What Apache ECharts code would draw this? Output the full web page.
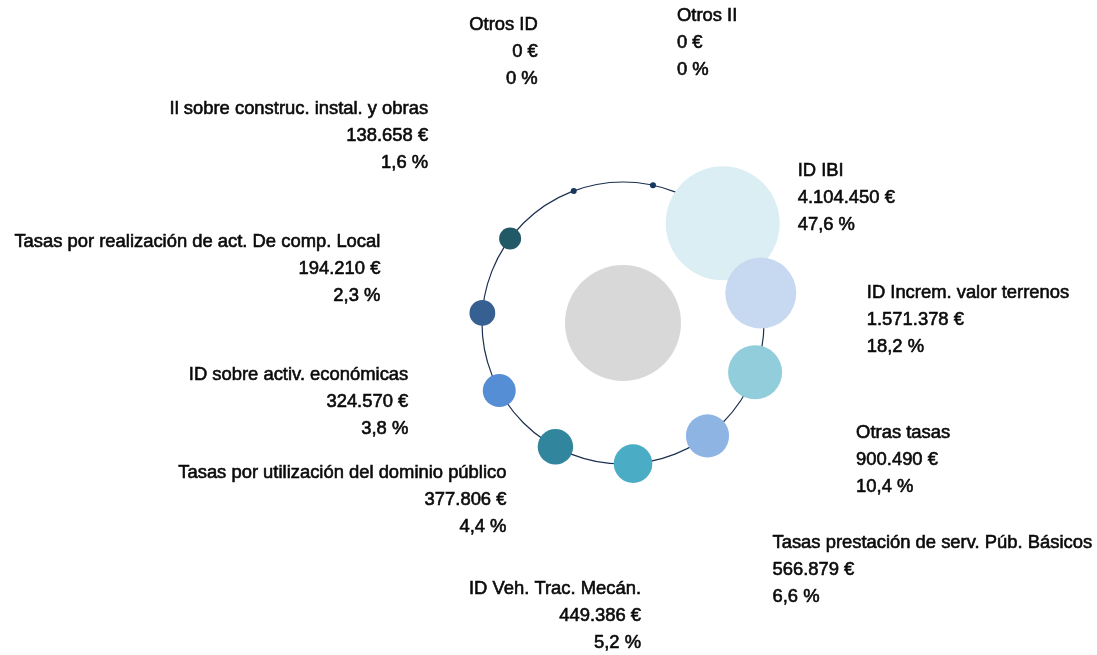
<!DOCTYPE html>
<html>
<head>
<meta charset="utf-8">
<script src="https://cdn.jsdelivr.net/npm/echarts@6/dist/echarts.min.js"></script>
<style>
html,body{margin:0;padding:0;background:#fff;}
#chart{width:1097px;height:655px;}
</style>
</head>
<body>
<div id="chart"></div>
<script>
// ---- data ----
var categories = [
  'ID IBI',
  'ID Increm. valor terrenos',
  'Otras tasas',
  'Tasas prestación de serv. Púb. Básicos',
  'ID Veh. Trac. Mecán.',
  'Tasas por utilización del dominio público',
  'ID sobre activ. económicas',
  'Tasas por realización de act. De comp. Local',
  'Il sobre construc. instal. y obras',
  'Otros ID',
  'Otros II'
];
var values = [4104450, 1571378, 900490, 566879, 449386, 377806, 324570, 194210, 138658, 0, 0];
var percentLabels = ['47,6', '18,2', '10,4', '6,6', '5,2', '4,4', '3,8', '2,3', '1,6', '0', '0'];

// ---- styles / layout (not data) ----
var colors = ['#DAEEF3', '#C6D9F1', '#92CDDC', '#8EB4E3', '#4BACC6', '#31859C',
              '#558ED5', '#366092', '#215967', '#17375E', '#17375E'];
var labelAlign = ['left', 'left', 'left', 'left', 'right', 'right', 'right', 'right', 'right', 'right', 'left'];
var labelOffset = [[75, -66], [106, -14], [101, 47], [65, 94], [8, 112], [-49, 13],
                   [-91, -29], [-102, -85], [-82, -143], [-36, -179], [24, -183]];

function fmtEuro(v) {
  return String(v).replace(/\B(?=(\d{3})+(?!\d))/g, '.') + ' €';
}
function bubbleSize(v) {
  if (!v) return 6;
  return 2 * (0.65 + 0.0278 * Math.sqrt(v));
}

var n = categories.length;
var ringData = categories.map(function (c, i) {
  return {
    value: [1, c],
    itemStyle: { color: colors[i] },
    label: { align: labelAlign[i], offset: labelOffset[i] }
  };
});

var chart = echarts.init(document.getElementById('chart'), null, { renderer: 'canvas' });
chart.setOption({
  animation: false,
  backgroundColor: '#ffffff',
  polar: { center: [623, 323], radius: 141 },
  angleAxis: {
    type: 'category',
    data: categories,
    startAngle: 45 + 180 / n,
    clockwise: true,
    boundaryGap: true,
    axisLine: { show: true, lineStyle: { color: '#1B2F4F', width: 1.2 } },
    axisTick: { show: false },
    axisLabel: { show: false },
    splitLine: { show: false }
  },
  radiusAxis: {
    type: 'value', min: 0, max: 1,
    axisLine: { show: false }, axisTick: { show: false },
    axisLabel: { show: false }, splitLine: { show: false }
  },
  series: [
    {
      type: 'scatter',
      coordinateSystem: 'polar',
      symbol: 'circle',
      symbolSize: 116,
      silent: true,
      itemStyle: { color: '#CECECE' },
      data: [[0, categories[0]]],
      z: 1
    },
    {
      type: 'scatter',
      coordinateSystem: 'polar',
      symbol: 'circle',
      symbolSize: function (val, params) { return bubbleSize(values[params.dataIndex]); },
      itemStyle: { opacity: 1 },
      label: {
        show: true,
        position: 'inside',
        verticalAlign: 'top',
        fontFamily: 'Liberation Sans, Arial, sans-serif',
        fontSize: 18.4,
        lineHeight: 27,
        color: '#0a0a0a',
        textBorderColor: '#0a0a0a',
        textBorderWidth: 0.6,
        formatter: function (p) {
          var i = p.dataIndex;
          return categories[i] + '\n' + fmtEuro(values[i]) + '\n' + percentLabels[i] + ' %';
        }
      },
      data: ringData,
      z: 3
    }
  ]
});
</script>
</body>
</html>
